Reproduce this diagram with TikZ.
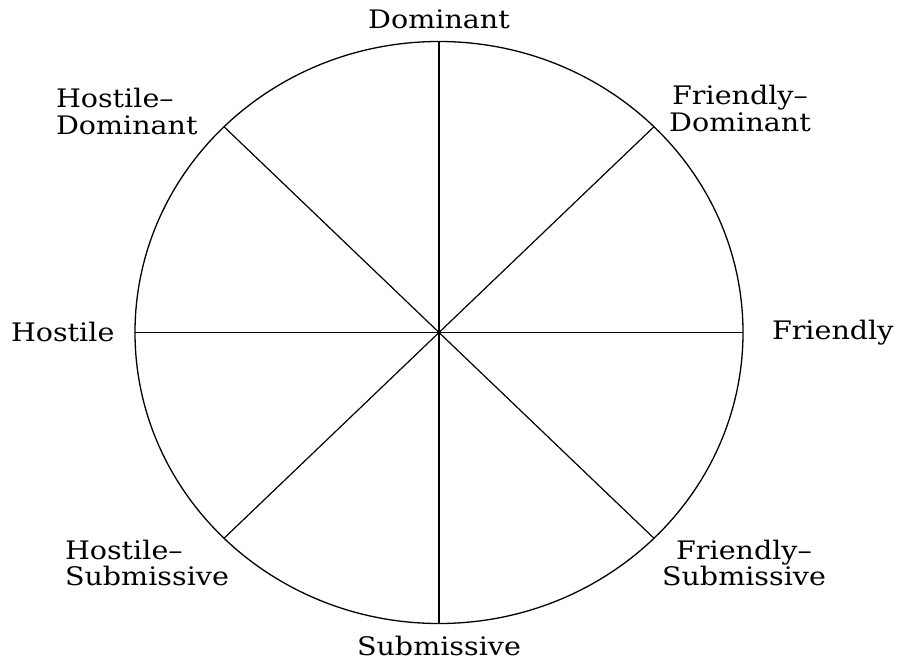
\documentclass[tikz,border=0pt]{standalone}
\usepackage{fontspec}
\setmainfont{DejaVu Serif}
\usepackage{graphicx}
\usetikzlibrary{calc}
\newcommand{\lbl}[1]{\scalebox{1.12}[1]{#1}}
\newcommand{\twolines}[3]{\scalebox{1.12}[1]{\begin{tabular}[t]{@{}#1@{}}#2\\#3\end{tabular}}}
\tikzset{
  lab/.style={inner sep=0pt, outer sep=0pt, font=\fontsize{25.5}{25}\selectfont},
  ring/.style={line width=1.3pt, draw=black},
  spoke/.style={line width=1.2pt, draw=black}
}
\begin{document}
\begin{tikzpicture}[x=1pt,y=-1pt]
\useasboundingbox (0,0) rectangle (902,666);
\coordinate (c) at (439,332.5);
\draw[ring] (c) ellipse [x radius=304, y radius=291];
\coordinate (pN) at (439,41.5);
\coordinate (pS) at (439,623.5);
\coordinate (pE) at (743,332.5);
\coordinate (pW) at (135,332.5);
\coordinate (pNE) at ($(c)+(215,-205.8)$);
\coordinate (pNW) at ($(c)+(-215,-205.8)$);
\coordinate (pSE) at ($(c)+(215,205.8)$);
\coordinate (pSW) at ($(c)+(-215,205.8)$);
\draw[spoke] (pN) -- (pS);
\draw[spoke] (pW) -- (pE);
\draw[spoke] (pNE) -- (pSW);
\draw[spoke] (pNW) -- (pSE);
\node[lab, anchor=base] (dom) at (439,29) {\lbl{Dominant}};
\node[lab, anchor=base] (sub) at (439,655) {\lbl{Submissive}};
\node[lab, anchor=base west] (hos) at (11,341) {\lbl{Hostile}};
\node[lab, anchor=base west] (fri) at (772,339) {\lbl{Friendly}};
\node[lab, anchor=base] (fd) at (740,105) {\twolines{c}{Friendly--}{Dominant}};
\node[lab, anchor=base west] (hd) at (56,108) {\twolines{l}{Hostile--}{Dominant}};
\node[lab, anchor=base west] (hs) at (65,559) {\twolines{l}{Hostile--}{Submissive}};
\node[lab, anchor=base] (fs) at (744,559) {\twolines{c}{Friendly--}{Submissive}};
\end{tikzpicture}
\end{document}
